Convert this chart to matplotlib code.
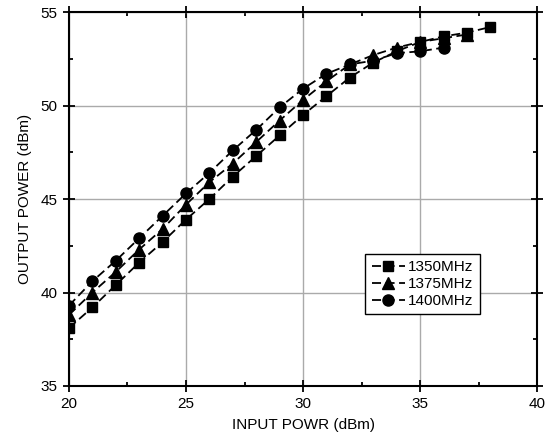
import matplotlib.pyplot as plt
from matplotlib.ticker import MultipleLocator

plt.rcParams['font.family'] = ['Liberation Sans', 'DejaVu Sans']

# input power (dBm)
pin_1350 = [20, 21, 22, 23, 24, 25, 26, 27, 28, 29, 30, 31, 32, 33, 34, 35, 36, 37, 38]
pin_1375 = [20, 21, 22, 23, 24, 25, 26, 27, 28, 29, 30, 31, 32, 33, 34, 35, 36, 37]
pin_1400 = [20, 21, 22, 23, 24, 25, 26, 27, 28, 29, 30, 31, 32, 33, 34, 35, 36]

# output power (dBm)
pout_1350 = [38.1, 39.2, 40.4, 41.6, 42.7, 43.9, 45.0, 46.2, 47.3, 48.4, 49.5,
             50.5, 51.5, 52.3, 52.9, 53.4, 53.7, 53.9, 54.2]
pout_1375 = [38.8, 40.0, 41.1, 42.3, 43.4, 44.7, 45.9, 46.9, 48.05, 49.2, 50.3,
             51.3, 52.2, 52.7, 53.1, 53.4, 53.6, 53.8]
pout_1400 = [39.3, 40.6, 41.7, 42.9, 44.1, 45.3, 46.4, 47.6, 48.7, 49.9, 50.9,
             51.7, 52.2, 52.4, 52.8, 52.9, 53.1]

fig = plt.figure(figsize=(5.47, 4.47), dpi=100)
ax = fig.add_axes([0.126, 0.1365, 0.856, 0.8365])

ax.plot(pin_1350, pout_1350, 'k--', marker='s', ms=7, dashes=(5, 2.5), lw=1.3, label='1350MHz')
ax.plot(pin_1375, pout_1375, 'k--', marker='^', ms=8, dashes=(5, 2.5), lw=1.3, label='1375MHz')
ax.plot(pin_1400, pout_1400, 'k--', marker='o', ms=8, dashes=(5, 2.5), lw=1.3, label='1400MHz')

ax.set_xlim(20, 40)
ax.set_ylim(35, 55)
ax.xaxis.set_major_locator(MultipleLocator(5))
ax.xaxis.set_minor_locator(MultipleLocator(2.5))
ax.yaxis.set_major_locator(MultipleLocator(5))
ax.yaxis.set_minor_locator(MultipleLocator(2.5))
ax.grid(True, which='major', color='#aaaaaa', lw=1)
ax.set_axisbelow(True)

ax.tick_params(which='both', top=True, right=True, labelsize=11, width=1.3)
ax.tick_params(which='major', direction='inout', length=8, pad=4)
ax.tick_params(which='minor', direction='in', length=3)
for s in ax.spines.values():
    s.set_linewidth(1.5)

ax.set_xlabel('INPUT POWR (dBm)', fontsize=11, labelpad=5)
ax.set_ylabel('OUTPUT POWER (dBm)', fontsize=11, labelpad=6)

leg = ax.legend(loc='lower left', bbox_to_anchor=(0.617, 0.171), fontsize=11,
                fancybox=False, edgecolor='black', framealpha=1, handlelength=2.2,
                handletextpad=0.2, borderpad=0.4, labelspacing=0.2)
leg.get_frame().set_linewidth(1.0)

plt.savefig('out.png', dpi=100)
